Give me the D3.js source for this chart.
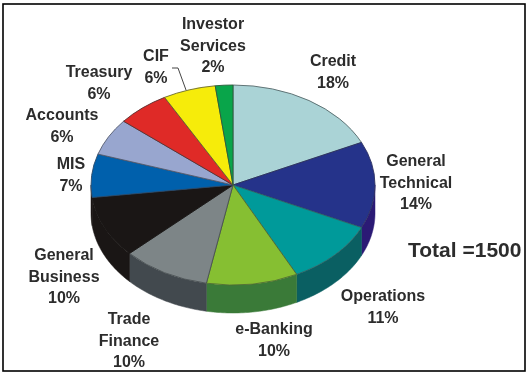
<!DOCTYPE html>
<html>
<head>
<meta charset="utf-8">
<script src="https://cdnjs.cloudflare.com/ajax/libs/d3/7.8.5/d3.min.js"></script>
<style>
html,body{margin:0;padding:0;background:#fff}
svg{display:block}
text{font-family:"Liberation Sans",Arial,sans-serif;font-weight:700;fill:#2c2c2c}
.soft{filter:blur(0.4px)}
</style>
</head>
<body>
<svg id="c" width="529" height="375"></svg>
<script>
const categories = ["Credit","General Technical","Operations","e-Banking","Trade Finance","General Business","MIS","Accounts","Treasury","CIF","Investor Services"];
const values = [18,14,10.6,10.4,10,10,7,6,6,6,2];
const topColors = ["#aad3d6","#25338a","#009a9a","#86bf32","#7d8587","#1a1615","#0060ac","#98a6cf","#df2a27","#f6ec0a","#09a54a"];
const edgeColors = ["#55686a","#2a2f60","#2f6567","#4f6b33","#4a5052","#1a1615","#2a4a6a","#555c70","#5a3030","#6a6a30","#2a5a3a"];
const sideColors = ["#7fa0a2","#2b1a75","#0a5f62","#3a7a38","#42494e","#1a1615","#1a1615","#6f7a9a","#a01f1d","#b5ad08","#067a36"];
const labelLines = [["Credit","18%"],["General","Technical","14%"],["Operations","11%"],["e-Banking","10%"],["Trade","Finance","10%"],["General","Business","10%"],["MIS","7%"],["Accounts","6%"],["Treasury","6%"],["CIF","6%"],["Investor","Services","2%"]];
const labelAnchors = [[333,66],[416,166],[383,301],[274,334],[129,324],[64,260],[71,169],[62,120],[99,77],[156,61],[213,29]];
const totalText = "Total =1500";

const cx = 233, cy = 185, rx = 142, ry = 100, depth = 28;
const svg = d3.select("#c");

svg.append("rect").attr("x",3).attr("y",4).attr("width",522).attr("height",367)
  .attr("fill","#fff").attr("stroke","#000").attr("stroke-width",1.6);

const chart = svg.append("g").attr("class","soft");
const pie = d3.pie().sort(null).value(d=>d)(values);
const xs = a => cx + rx*Math.sin(a);
const ys = a => cy - ry*Math.cos(a);

// side walls: only the front half of the rim is visible
const area = d3.area().x(a=>xs(a)).y0(a=>ys(a)).y1(a=>ys(a)+depth);
const gWalls = chart.append("g");
pie.forEach((p,i)=>{
  const a0 = Math.max(p.startAngle, Math.PI/2), a1 = Math.min(p.endAngle, 3*Math.PI/2);
  if (a1 <= a0) return;
  const n = 40, angles = d3.range(n+1).map(k=>a0+(a1-a0)*k/n);
  gWalls.append("path").attr("d",area(angles)).attr("fill",sideColors[i])
    .attr("stroke",sideColors[i]).attr("stroke-width",0.5);
});

// top surface
const arc = d3.arc().innerRadius(0).outerRadius(ry);
chart.append("g").attr("transform",`translate(${cx},${cy}) scale(${rx/ry},1)`)
  .selectAll("path").data(pie).join("path")
  .attr("d",arc).attr("fill",(d,i)=>topColors[i])
  .attr("stroke",(d,i)=>edgeColors[i]).attr("stroke-width",0.9)
  .attr("vector-effect","non-scaling-stroke");

// CIF leader
chart.append("path").attr("d",d3.line()([[186,90],[178,68],[172,68]]))
  .attr("fill","none").attr("stroke","#444").attr("stroke-width",1);

// labels
const lh = 21.5;
labelLines.forEach((lines,i)=>{
  const t = chart.append("text").attr("text-anchor","middle").attr("font-size",16)
    .attr("x",labelAnchors[i][0]).attr("y",labelAnchors[i][1]);
  lines.forEach((s,j)=>t.append("tspan").attr("x",labelAnchors[i][0]).attr("dy",j?lh:0).text(s));
});
chart.append("text").attr("x",408).attr("y",257).attr("font-size",21).text(totalText);
</script>
</body>
</html>
